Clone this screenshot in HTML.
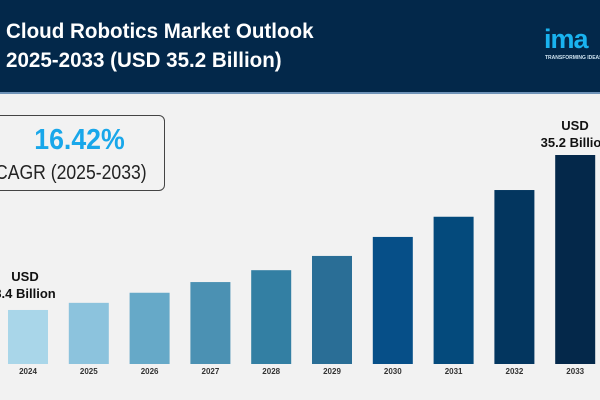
<!DOCTYPE html>
<html><head><meta charset="utf-8"><style>
body{margin:0;width:600px;height:400px;overflow:hidden;background:#f2f2f2;font-family:"Liberation Sans",sans-serif;position:relative}
.hdr{position:absolute;left:0;top:0;width:600px;height:92px;background:#03284a;border-bottom:2px solid #6f93b8}
.t{position:absolute;left:6px;color:#fff;font-weight:bold;font-size:21px;white-space:nowrap;transform:scaleX(0.98);transform-origin:left}
</style></head><body>
<div class="hdr">
<div class="t" style="top:20px">Cloud Robotics Market Outlook</div>
<div class="t" style="top:49px">2025-2033 (USD 35.2 Billion)</div>
<div style="position:absolute;left:544px;top:24px;color:#19b3f0;font-size:27px;font-weight:bold;letter-spacing:-1px">ima</div>
<div style="position:absolute;left:545px;top:55px;color:#cfe3f0;font-size:5px;font-weight:bold;white-space:nowrap">TRANSFORMING IDEAS</div>
</div>
<div style="position:absolute;left:-6px;top:115px;width:169px;height:74px;border:1.5px solid #444;border-radius:6px">
<div style="position:absolute;left:0;width:169px;text-align:center;top:8px;color:#19a7ea;font-size:29px;font-weight:bold;transform:scaleX(0.92)">16.42%</div>
<div style="position:absolute;left:0;width:164px;text-align:center;top:46px;color:#222;font-size:20px;white-space:nowrap;transform:scaleX(0.88);transform-origin:left">CAGR (2025-2033)</div>
</div>
<svg id="chart" width="600" height="400" style="position:absolute;left:0;top:0"></svg>
<script>
const years=["2024","2025","2026","2027","2028","2029","2030","2031","2032","2033"];
const values=[9.1,10.3,12.0,13.8,15.8,18.2,21.4,24.8,29.3,35.2];
const colors=["#a9d6e9","#8cc3dd","#66a9c8","#4b91b3","#337fa3","#2a6e96","#064f88","#044a7c","#03365f","#04284a"];
const svg=document.getElementById('chart');
const NS="http://www.w3.org/2000/svg";
const base=364, maxH=209, maxV=35.2;
function y(v){return base-v/maxV*maxH;}
function x(i){return 8+i*60.8;}
const bw=40;
years.forEach((yr,i)=>{
 const r=document.createElementNS(NS,'rect');
 r.setAttribute('x',x(i));r.setAttribute('y',y(values[i]));
 r.setAttribute('width',bw);r.setAttribute('height',base-y(values[i]));
 r.setAttribute('fill',colors[i]);
 
 
 svg.appendChild(r);
 const t=document.createElementNS(NS,'text');
 t.setAttribute('x',x(i)+bw/2);t.setAttribute('y',374);
 t.setAttribute('text-anchor','middle');t.setAttribute('font-size','8');t.setAttribute('font-weight','bold');t.setAttribute('fill','#333');
 t.textContent=yr;
 
 
 svg.appendChild(t);
});
function lab(cx,y1,l1,l2,name){
 [l1,l2].forEach((s,k)=>{
  const t=document.createElementNS(NS,'text');
  t.setAttribute('x',cx);t.setAttribute('y',y1+k*17);
  t.setAttribute('text-anchor','middle');t.setAttribute('font-size','13');t.setAttribute('font-weight','bold');t.setAttribute('fill','#111');
  t.textContent=s;
  
  
  svg.appendChild(t);
 });
}
lab(25,281,"USD","8.4 Billion","start-value-label");
lab(575,130,"USD","35.2 Billion","end-value-label");
</script>
</body></html>
